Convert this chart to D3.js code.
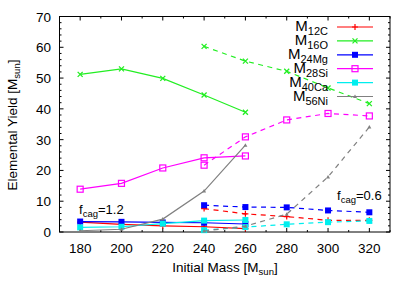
<!DOCTYPE html>
<html>
<head>
<style>
body { margin: 0; background: #fff; }
text { font-family: "Liberation Sans", Arial, sans-serif; fill: #000; }
</style>
</head>
<body>
<script src="https://cdn.jsdelivr.net/npm/d3@7"></script>
<script>
// masses for the two runs
var massHigh = [180, 200, 220, 240, 260];   // f_cag = 1.2 (solid)
var massLow = [240, 260, 280, 300, 320];    // f_cag = 0.6 (dashed)

// element names (subscript part) and their yields
var elements = ["12C", "16O", "24Mg", "28Si", "40Ca", "56Ni"];
var colors = ["#ff0000", "#22ee22", "#0000ff", "#ff00ff", "#00eeee", "#808080"];
var markers = ["plus", "cross", "fillbox", "box", "fillbox", "tri"];

var yieldHigh = [
  [3.2, 2.5, 2.0, 1.7, 1.1],     // 12C
  [51.2, 53.0, 49.9, 44.5, 38.9],// 16O
  [3.4, 3.3, 3.1, 3.0, 2.6],     // 24Mg
  [13.9, 15.8, 20.8, 24.1, 24.7],// 28Si
  [1.5, 1.7, 2.7, 3.7, 3.9],     // 40Ca
  [0.4, 0.9, 4.2, 13.3, 28.2]    // 56Ni
];
var yieldLow = [
  [7.6, 5.9, 5.0, 3.8, 3.8],     // 12C
  [60.3, 55.5, 52.2, 46.8, 41.7],// 16O
  [8.7, 8.1, 8.0, 7.0, 6.4],     // 24Mg
  [21.7, 30.9, 36.4, 38.5, 37.7],// 28Si
  [0.6, 1.6, 2.5, 3.2, 3.6],     // 40Ca
  [0.3, 1.9, 5.8, 17.9, 34.1]    // 56Ni
];

var xTicks = [180, 200, 220, 240, 260, 280, 300, 320];
var yTicks = [0, 10, 20, 30, 40, 50, 60, 70];

var W = 415, H = 291;
var pL = 59.5, pR = 390, pT = 16.5, pB = 232;

var svg = d3.select("body").append("svg").attr("width", W).attr("height", H);

var x = d3.scaleLinear().domain([170, 330]).range([pL, pR]);
var y = d3.scaleLinear().domain([0, 70]).range([pB, pT]);

// ticks on all four sides, pointing in
var ax = svg.append("g").attr("stroke", "#000").attr("stroke-width", 1);
d3.range(170, 331, 10).forEach(function (v) {
  var len = (v % 20 == 0) ? 4 : 2;
  ax.append("line").attr("x1", x(v)).attr("x2", x(v)).attr("y1", pB).attr("y2", pB - len);
  ax.append("line").attr("x1", x(v)).attr("x2", x(v)).attr("y1", pT).attr("y2", pT + len);
});
d3.range(0, 71, 2).forEach(function (v) {
  var len = (v % 10 == 0) ? 4 : 2;
  ax.append("line").attr("y1", y(v)).attr("y2", y(v)).attr("x1", pL).attr("x2", pL + len);
  ax.append("line").attr("y1", y(v)).attr("y2", y(v)).attr("x1", pR).attr("x2", pR - len);
});
ax.append("rect").attr("x", pL).attr("y", pT).attr("width", pR - pL).attr("height", pB - pT)
  .attr("fill", "none");

svg.selectAll(".xl").data(xTicks).enter().append("text")
  .attr("x", function (d) { return x(d); }).attr("y", 253)
  .attr("text-anchor", "middle").attr("font-size", 13.5).text(function (d) { return d; });
svg.selectAll(".yl").data(yTicks).enter().append("text")
  .attr("x", 51).attr("y", function (d) { return y(d) + 5; })
  .attr("text-anchor", "end").attr("font-size", 13.5).text(function (d) { return d; });

// axis titles
var xt = svg.append("text").attr("x", 225).attr("y", 272).attr("text-anchor", "middle").attr("font-size", 13.5);
xt.append("tspan").text("Initial Mass [M");
xt.append("tspan").attr("font-size", 9.5).attr("dy", 3).text("sun");
xt.append("tspan").attr("dy", -3).text("]");
var yt = svg.append("text").attr("transform", "translate(17,125) rotate(-90)").attr("text-anchor", "middle").attr("font-size", 13.5);
yt.append("tspan").text("Elemental Yield [M");
yt.append("tspan").attr("font-size", 9.5).attr("dy", 3).text("sun");
yt.append("tspan").attr("dy", -3).text("]");

function drawMarker(g, type, cx, cy, col) {
  var s = 3;
  if (type == "plus") {
    g.append("path").attr("d", "M" + (cx - s) + "," + cy + "H" + (cx + s) + "M" + cx + "," + (cy - s) + "V" + (cy + s))
      .attr("stroke", col).attr("stroke-width", 1.2);
  } else if (type == "cross") {
    g.append("path").attr("d", "M" + (cx - 2.5) + "," + (cy - 2.5) + "L" + (cx + 2.5) + "," + (cy + 2.5) +
      "M" + (cx - 2.5) + "," + (cy + 2.5) + "L" + (cx + 2.5) + "," + (cy - 2.5))
      .attr("stroke", col).attr("stroke-width", 1.3);
  } else if (type == "fillbox") {
    g.append("rect").attr("x", cx - 3).attr("y", cy - 3).attr("width", 6).attr("height", 6).attr("fill", col);
  } else if (type == "box") {
    g.append("rect").attr("x", cx - 3).attr("y", cy - 3).attr("width", 6).attr("height", 6)
      .attr("fill", "none").attr("stroke", col).attr("stroke-width", 1.2);
  } else {
    g.append("path").attr("d", "M" + (cx - 2) + "," + (cy + 1.5) + "L" + (cx + 2) + "," + (cy + 1.5) + "L" + cx + "," + (cy - 2) + "Z")
      .attr("fill", col);
  }
}

var line = d3.line().x(function (d) { return x(d[0]); }).y(function (d) { return y(d[1]); });
var plot = svg.append("g");

function drawSeries(masses, vals, i, dashed) {
  var pts = masses.map(function (m, k) { return [m, vals[k]]; });
  var g = plot.append("g");
  g.append("path").datum(pts).attr("d", line).attr("fill", "none")
    .attr("stroke", colors[i]).attr("stroke-width", 1.2)
    .attr("stroke-dasharray", dashed ? "5,4.5" : null);
  pts.forEach(function (p) { drawMarker(g, markers[i], x(p[0]), y(p[1]), colors[i]); });
}

for (var i = 0; i < elements.length; i++) {
  drawSeries(massHigh, yieldHigh[i], i, false);
  drawSeries(massLow, yieldLow[i], i, true);
}

// legend
var lg = svg.append("g");
elements.forEach(function (e, i) {
  var yy = 27 + i * 13.9;
  var t = lg.append("text").attr("x", 328).attr("y", yy + 4).attr("text-anchor", "end").attr("font-size", 15);
  t.append("tspan").text("M");
  t.append("tspan").attr("font-size", 11).attr("dy", 4).text(e);
  lg.append("line").attr("x1", 337).attr("x2", 373).attr("y1", yy).attr("y2", yy)
    .attr("stroke", colors[i]).attr("stroke-width", 1.2);
  drawMarker(lg, markers[i], 355, yy, colors[i]);
});

// f_cag labels
function fLabel(xp, yp, val) {
  var t = svg.append("text").attr("x", xp).attr("y", yp).attr("font-size", 13);
  t.append("tspan").text("f");
  t.append("tspan").attr("font-size", 9.5).attr("dy", 3).text("cag");
  t.append("tspan").attr("dy", -3).text("=" + val);
}
fLabel(79, 214, "1.2");
fLabel(337, 200, "0.6");
</script>
</body>
</html>
